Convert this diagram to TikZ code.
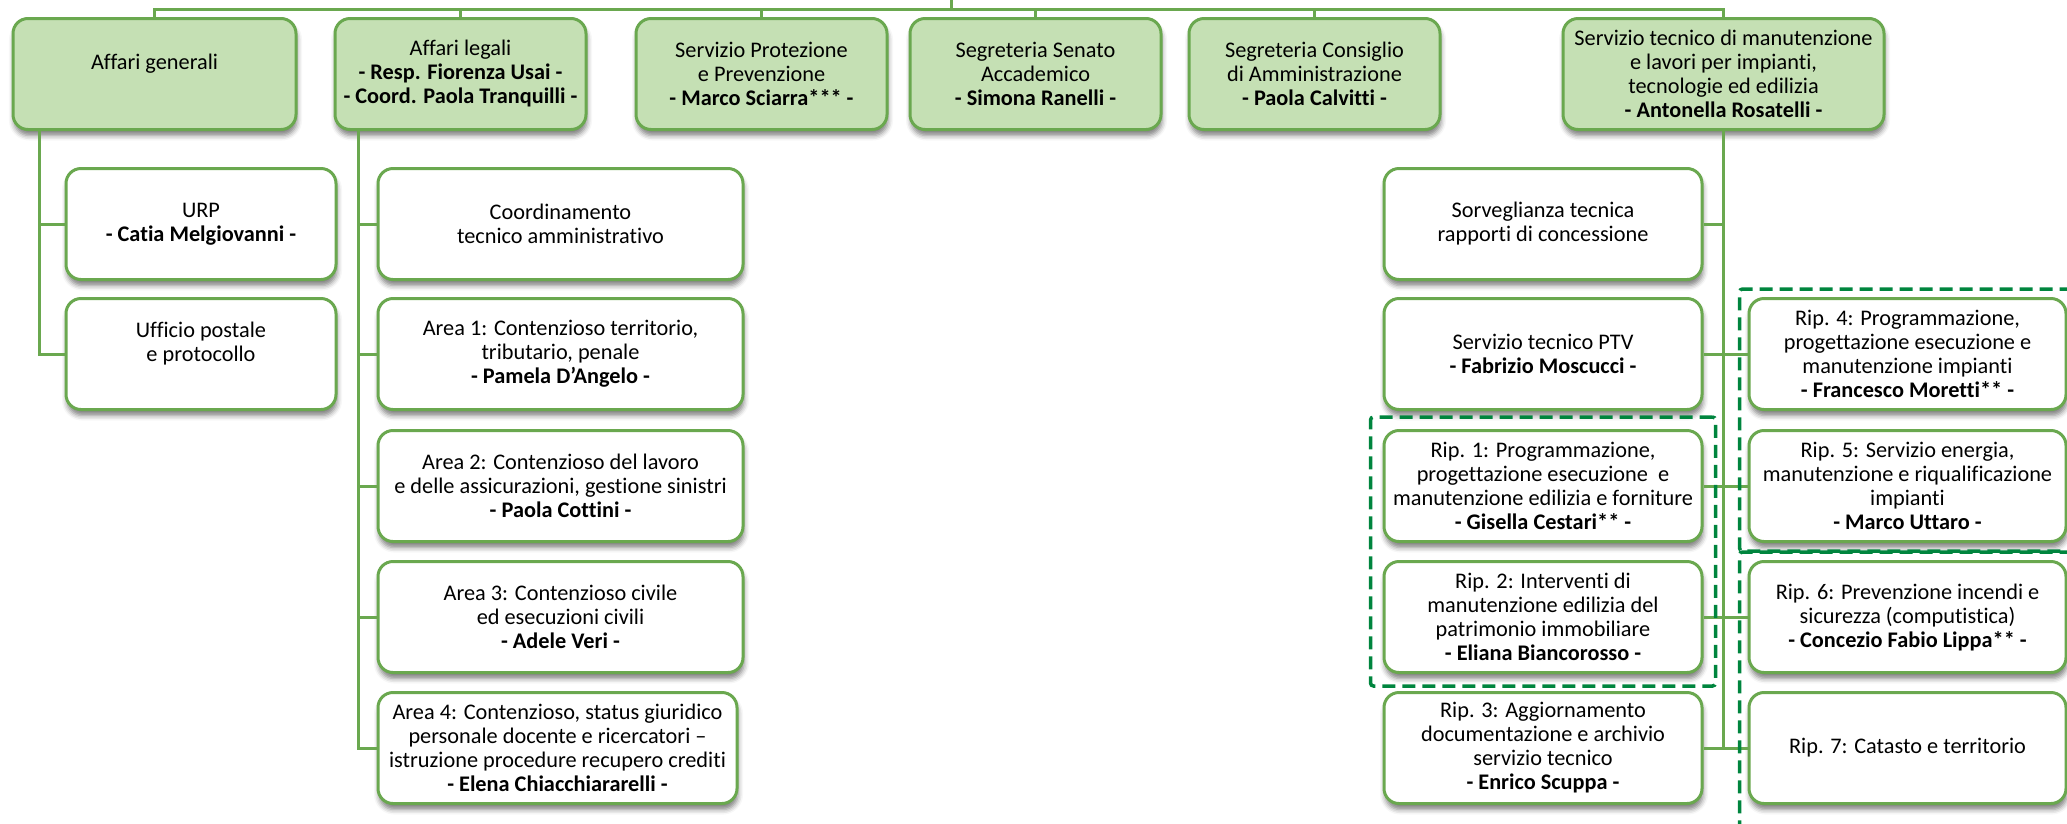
\documentclass[tikz,border=0pt]{standalone}
\usepackage{fontspec}
\setmainfont{Carlito}[Ligatures={NoCommon,NoContextual}]
\usepackage{tikz}
\usetikzlibrary{shadows.blur}
\usetikzlibrary{fit}

\definecolor{boxline}{HTML}{6AA84F}
\definecolor{boxfill}{HTML}{C5E0B4}
\definecolor{grpline}{HTML}{00853E}

\newcommand{\capo}[1]{\textbf{- #1 -}}

\begin{document}
\begin{tikzpicture}[x=1pt, y=-1pt,
		font=\fontsize{22.3pt}{24pt}\selectfont,
		unit/.style={draw=boxline, fill=white, line width=3pt, rounded corners=15pt, align=center, inner sep=2pt, minimum height=111pt,
			blur shadow={shadow xshift=1pt, shadow yshift=-6pt, shadow blur radius=5pt, shadow opacity=50}},
		head/.style={unit, fill=boxfill},
		link/.style={draw=boxline, line width=3pt},
		grp/.style={draw=grpline, line width=3.5pt, dash pattern=on 13pt off 7pt, rounded corners=3pt}]
		\useasboundingbox (0,0) rectangle (2067,823);

		\node[head, minimum width=283pt] (ag) at (154.5,74) {Affari generali\\\mbox{}};
		\node[head, minimum width=251pt] (al) at (460.5,74) {Affari legali\\\capo{Resp. Fiorenza Usai}\\\capo{Coord. Paola Tranquilli}};
		\node[head, minimum width=251pt] (sp) at (761.5,74) {Servizio Protezione\\e Prevenzione\\\capo{Marco Sciarra***}};
		\node[head, minimum width=251pt] (ss) at (1035.5,74) {Segreteria Senato\\Accademico\\\capo{Simona Ranelli}};
		\node[head, minimum width=251pt] (sc) at (1314.5,74) {Segreteria Consiglio\\di Amministrazione\\\capo{Paola Calvitti}};
		\node[head, minimum width=321pt] (st) at (1723.5,74) {Servizio tecnico di manutenzione\\e lavori per impianti,\\tecnologie ed edilizia\\\capo{Antonella Rosatelli}};

		\node[unit, minimum width=270pt] (urp) at (201,224) {URP\\\capo{Catia Melgiovanni}};
		\node[unit, minimum width=270pt] (upo) at (201,354) {Ufficio postale\\e protocollo\\\mbox{}};

		\node[unit, minimum width=365pt] (cta) at (560.5,224) {Coordinamento\\tecnico amministrativo};
		\node[unit, minimum width=365pt] (a1) at (560.5,354) {Area 1: Contenzioso territorio,\\tributario, penale\\\capo{Pamela D’Angelo}};
		\node[unit, minimum width=365pt] (a2) at (560.5,486) {Area 2: Contenzioso del lavoro\\e delle assicurazioni, gestione sinistri\\\capo{Paola Cottini}};
		\node[unit, minimum width=365pt] (a3) at (560.5,617) {Area 3: Contenzioso civile\\ed esecuzioni civili\\\capo{Adele Veri}};
		\node[unit, minimum width=359pt] (a4) at (557.5,748) {Area 4: Contenzioso, status giuridico\\personale docente e ricercatori –\\istruzione procedure recupero crediti\\\capo{Elena Chiacchiararelli}};

		\node[unit, minimum width=318pt] (sv) at (1543,224) {Sorveglianza tecnica\\rapporti di concessione};
		\node[unit, minimum width=318pt] (ptv) at (1543,354) {Servizio tecnico PTV\\\capo{Fabrizio Moscucci}};
		\node[unit, minimum width=318pt] (r1) at (1543,486) {Rip. 1: Programmazione,\\progettazione esecuzione~ e\\manutenzione edilizia e forniture\\\capo{Gisella Cestari**}};
		\node[unit, minimum width=318pt] (r2) at (1543,617) {Rip. 2: Interventi di\\manutenzione edilizia del\\patrimonio immobiliare\\\capo{Eliana Biancorosso}};
		\node[unit, minimum width=318pt] (r3) at (1543,748) {Rip. 3: Aggiornamento\\documentazione e archivio\\servizio tecnico\\\capo{Enrico Scuppa}};

		\node[unit, minimum width=317pt] (r4) at (1907.5,354) {Rip. 4: Programmazione,\\progettazione esecuzione e\\manutenzione impianti\\\capo{Francesco Moretti**}};
		\node[unit, minimum width=317pt] (r5) at (1907.5,486) {Rip. 5: Servizio energia,\\manutenzione e riqualificazione\\impianti\\\capo{Marco Uttaro}};
		\node[unit, minimum width=317pt] (r6) at (1907.5,617) {Rip. 6: Prevenzione incendi e\\sicurezza (computistica)\\\capo{Concezio Fabio Lippa**}};
		\node[unit, minimum width=317pt] (r7) at (1907.5,748) {Rip. 7: Catasto e territorio};

		\coordinate (root) at (951,-5);
		\coordinate (bus) at (951,9);
		\draw[link] (root) -- (bus);
		\draw[link] (ag.north) |- (bus) -| (st.north);
		\foreach \n in {al,sp,ss,sc}
			\draw[link] (\n.north) -- (\n.north |- bus);

		\coordinate (agt) at ([xshift=28pt]ag.south west);
		\draw[link] (agt) |- (upo.west);
		\draw[link] (urp.west) -- (urp.west -| agt);

		\coordinate (alt) at ([xshift=25pt]al.south west);
		\draw[link] (alt) |- (a4.west);
		\foreach \n in {cta,a1,a2,a3}
			\draw[link] (\n.west) -- (\n.west -| alt);

		\draw[link] (st.south) |- (r3.east);
		\foreach \n in {sv,ptv,r1,r2}
			\draw[link] (\n.east) -- (\n.east -| st.south);
		\foreach \n in {r4,r5,r6,r7}
			\draw[link] (\n.west) -- (\n.west -| st.south);

		\coordinate (lowedge) at (1907.5,840);
		\node[grp, inner sep=12pt, fit=(r1)(r2)] (g12) {};
		\node[grp, inner sep=8pt, fit=(r4)(r5)] (g45) {};
		\node[grp, inner sep=8pt, fit=(r6)(r7)(lowedge)] (g67) {};

	\end{tikzpicture}
\end{document}
